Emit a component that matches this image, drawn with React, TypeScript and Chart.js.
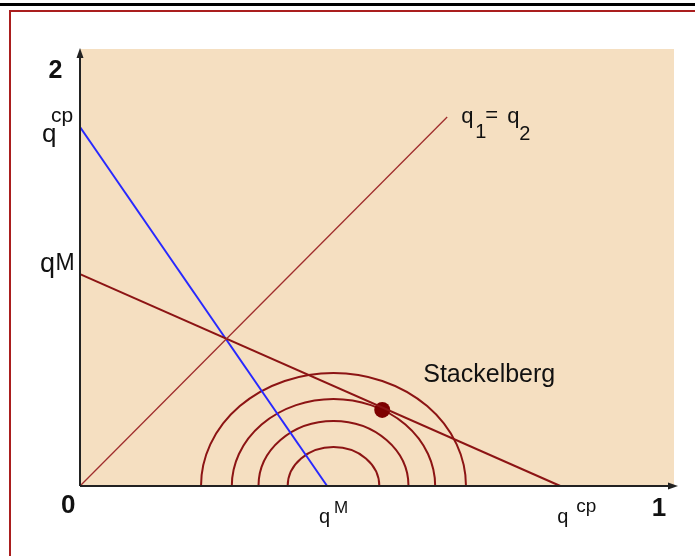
import { useEffect, useRef } from 'react';
import { Chart, registerables } from 'chart.js';
Chart.register(...registerables);

// ---- data (in chart units: x 0..1, y 0..2) ----
const blueLine = [{ x: 0, y: 1.718 }, { x: 0.426, y: 0 }];
const redLine = [{ x: 0, y: 1.014 }, { x: 0.828, y: 0 }];
const diagLine = [{ x: 0, y: 0 }, { x: 0.633, y: 1.766 }];
const stackelbergPoint = [{ x: 0.521, y: 0.364 }];
const isoCenterX = 0.437;
const isoSemiX = [0.2284, 0.1753, 0.1293, 0.079];
const isoSemiY = [0.5407, 0.4163, 0.311, 0.1866];
const xTickValues = [0, 1];
const xTickLabels = ['0', '1'];
const yTickValues = [2];
const yTickLabels = ['2'];
const xMax = 1.024;
const yMax = 2.091;

const RED = 'rgb(140,20,20)';
const FONT = '"Liberation Sans", Arial, sans-serif';

function txt(ctx: CanvasRenderingContext2D, s: string, x: number, y: number, size: number, bold = false, align: CanvasTextAlign = 'left') {
  ctx.font = `${bold ? 'bold ' : ''}${size}px ${FONT}`;
  ctx.textAlign = align;
  ctx.textBaseline = 'alphabetic';
  ctx.fillStyle = '#111';
  ctx.fillText(s, x, y);
}

const decor = {
  id: 'decor',
  beforeDraw(chart: any) {
    const ctx = chart.ctx as CanvasRenderingContext2D;
    const { left, top, right, bottom } = chart.chartArea;
    ctx.save();
    ctx.fillStyle = '#fff';
    ctx.fillRect(0, 0, chart.width, chart.height);
    ctx.fillStyle = '#000';
    ctx.fillRect(0, 3, chart.width, 3);
    ctx.fillStyle = 'rgb(170,30,30)';
    ctx.fillRect(9, 10, chart.width - 9, 2);
    ctx.fillRect(9, 10, 2, chart.height - 10);
    ctx.fillStyle = '#F5DFC1';
    ctx.fillRect(left, top, right - left, bottom - top);
    ctx.restore();
  },
  beforeDatasetsDraw(chart: any) {
    const ctx = chart.ctx as CanvasRenderingContext2D;
    const xs = chart.scales.x, ys = chart.scales.y;
    const cx = xs.getPixelForValue(isoCenterX);
    const cy = ys.getPixelForValue(0);
    ctx.save();
    ctx.strokeStyle = RED;
    ctx.lineWidth = 2;
    for (let i = 0; i < isoSemiX.length; i++) {
      const a = xs.getPixelForValue(isoCenterX + isoSemiX[i]) - cx;
      const b = cy - ys.getPixelForValue(isoSemiY[i]);
      ctx.beginPath();
      ctx.ellipse(cx, cy, a, b, 0, Math.PI, 2 * Math.PI);
      ctx.stroke();
    }
    ctx.restore();
  },
  afterDatasetsDraw(chart: any) {
    const ctx = chart.ctx as CanvasRenderingContext2D;
    const xs = chart.scales.x, ys = chart.scales.y;
    const x0 = xs.getPixelForValue(0);
    const y0 = ys.getPixelForValue(0);
    const { top, right } = chart.chartArea;
    ctx.save();
    // axes
    ctx.strokeStyle = '#222';
    ctx.fillStyle = '#222';
    ctx.lineWidth = 2;
    ctx.beginPath();
    ctx.moveTo(x0, y0);
    ctx.lineTo(x0, top + 6);
    ctx.moveTo(x0, y0);
    ctx.lineTo(right - 4, y0);
    ctx.stroke();
    ctx.beginPath();
    ctx.moveTo(x0, top - 1);
    ctx.lineTo(x0 - 3.5, top + 9);
    ctx.lineTo(x0 + 3.5, top + 9);
    ctx.closePath();
    ctx.fill();
    ctx.beginPath();
    ctx.moveTo(right + 4, y0);
    ctx.lineTo(right - 6, y0 - 3.5);
    ctx.lineTo(right - 6, y0 + 3.5);
    ctx.closePath();
    ctx.fill();

    // tick labels
    xTickValues.forEach((v, i) => {
      const px = xs.getPixelForValue(v);
      if (v === 0) txt(ctx, xTickLabels[i], px - 19, y0 + 27, 26, true);
      else txt(ctx, xTickLabels[i], px - 1, y0 + 30, 26, true, 'center');
    });
    yTickValues.forEach((v, i) => {
      const py = ys.getPixelForValue(v);
      txt(ctx, yTickLabels[i], x0 - 24.5, py + 10, 25, true, 'center');
    });

    // y-axis labels
    let py = ys.getPixelForValue(blueLine[0].y);
    txt(ctx, 'q', x0 - 38, py + 15, 26);
    txt(ctx, 'cp', x0 - 29, py - 5, 21);
    py = ys.getPixelForValue(redLine[0].y);
    txt(ctx, 'q', x0 - 40, py - 2, 27);
    txt(ctx, 'M', x0 - 24.5, py - 4, 23);

    // x-axis labels
    let px = xs.getPixelForValue(blueLine[1].x);
    txt(ctx, 'q', px - 8, y0 + 36.5, 20);
    txt(ctx, 'M', px + 7, y0 + 27, 17);
    px = xs.getPixelForValue(redLine[1].x);
    txt(ctx, 'q', px - 3, y0 + 36.5, 20);
    txt(ctx, 'cp', px + 16, y0 + 26, 19);

    // q1 = q2
    px = xs.getPixelForValue(diagLine[1].x);
    py = ys.getPixelForValue(diagLine[1].y);
    txt(ctx, 'q', px + 14, py + 6.5, 22);
    txt(ctx, '1', px + 28, py + 21, 20);
    txt(ctx, '=', px + 38, py + 5, 22);
    txt(ctx, 'q', px + 60, py + 6.5, 22);
    txt(ctx, '2', px + 72, py + 23, 20);

    // Stackelberg
    px = xs.getPixelForValue(stackelbergPoint[0].x);
    py = ys.getPixelForValue(stackelbergPoint[0].y);
    txt(ctx, 'Stackelberg', px + 41, py - 28, 25);
    ctx.restore();
  },
};

export default function App() {
  const ref = useRef<HTMLCanvasElement>(null);
  useEffect(() => {
    const chart = new Chart(ref.current!, {
      type: 'scatter',
      data: {
        datasets: [
          { data: diagLine, showLine: true, borderColor: 'rgb(160,45,45)', borderWidth: 1.3, pointRadius: 0, clip: false } as any,
          { data: redLine, showLine: true, borderColor: RED, borderWidth: 2, pointRadius: 0, clip: false } as any,
          { data: blueLine, showLine: true, borderColor: 'rgb(40,40,255)', borderWidth: 2, pointRadius: 0, clip: false } as any,
          { data: stackelbergPoint, showLine: false, pointRadius: 8, pointBackgroundColor: 'rgb(125,0,0)', pointBorderColor: 'rgb(125,0,0)', pointBorderWidth: 0, clip: false } as any,
        ],
      },
      options: {
        responsive: false,
        animation: false,
        devicePixelRatio: 1,
        events: [],
        layout: { padding: { left: 80, top: 49, right: 21, bottom: 70 } },
        scales: {
          x: { type: 'linear', min: 0, max: xMax, display: false },
          y: { type: 'linear', min: 0, max: yMax, display: false },
        },
        plugins: { legend: { display: false }, tooltip: { enabled: false } },
      },
      plugins: [decor],
    });
    return () => chart.destroy();
  }, []);
  return (
    <div style={{ position: 'fixed', left: 0, top: 0, width: 695, height: 556 }}>
      <canvas ref={ref} width={695} height={556} style={{ display: 'block' }} />
    </div>
  );
}
